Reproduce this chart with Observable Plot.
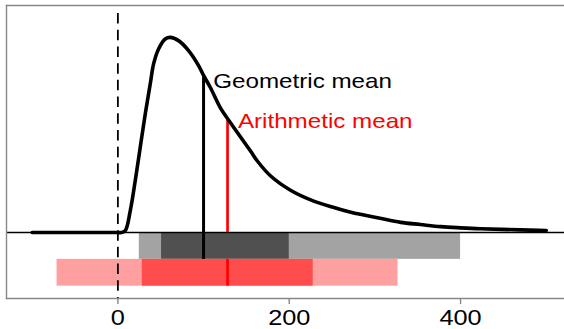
<!DOCTYPE html>
<html>
<head>
<meta charset="utf-8">
<script src="https://cdn.jsdelivr.net/npm/d3@7"></script>
<script src="https://cdn.jsdelivr.net/npm/@observablehq/plot@0.6"></script>
<style>
  html, body { margin: 0; padding: 0; background: white; }
</style>
</head>
<body>
<div id="chart"></div>
<script>
// ---- data ----
// density curve (x value, density ×10^-3)
const curveX = [-100, 0, 4, 8.6, 14.5, 20.3, 26.1, 32.0, 37.8, 41.7, 47.5, 55.3, 61.2, 70.8, 82.5, 94.2, 100, 107.8, 120, 132, 155, 163, 178, 202, 225, 248, 272, 283, 306, 330, 353, 377, 400, 423, 470, 500];
const curveY = [0, 0, 0.0, 0.07, 0.82, 1.94, 3.18, 4.43, 5.55, 6.29, 6.85, 7.22, 7.28, 7.16, 6.79, 6.23, 5.86, 5.42, 4.63, 4.07, 3.03, 2.66, 2.12, 1.57, 1.22, 0.97, 0.76, 0.68, 0.53, 0.38, 0.30, 0.22, 0.175, 0.14, 0.10, 0.075];

// means and the curve height at each mean
const meanNames = ["Geometric mean", "Arithmetic mean"];
const meanValues = [100, 128];
const meanHeights = [5.8, 4.2];

// interval bars: [low, high]
const geoOuter = [25, 400];
const geoInner = [51, 200];
const arithOuter = [-71, 327];
const arithInner = [28.5, 228];
// row bands on the y axis (below the baseline)
const geoRow = [-1, 0];
const arithRow = [-2, -1];

// label anchor points (data units)
const labelX = [111.3, 140.1];
const labelY = [5.40, 3.905];

const xTicks = [0, 200, 400];

// ---- build tables ----
const curve = curveX.map((x, i) => ({x, y: curveY[i]}));
const bars = [
  {x1: geoOuter[0], x2: geoOuter[1], y1: geoRow[0], y2: geoRow[1], fill: "#a3a3a3"},
  {x1: geoInner[0], x2: geoInner[1], y1: geoRow[0], y2: geoRow[1], fill: "#505050"},
  {x1: arithOuter[0], x2: arithOuter[1], y1: arithRow[0], y2: arithRow[1], fill: "#ffa0a0"},
  {x1: arithInner[0], x2: arithInner[1], y1: arithRow[0], y2: arithRow[1], fill: "#ff4d4d"}
];
const redUpper = [{x: meanValues[1], y1: 0, y2: meanHeights[1]}];
const redLower = [{x: meanValues[1], y1: arithRow[0], y2: arithRow[1]}];
const blackLine = [{x: meanValues[0], y1: geoRow[0], y2: meanHeights[0]}];
const labels = meanNames.map((t, i) => ({t, x: labelX[i], y: labelY[i], c: i === 0 ? "black" : "#ff0000"}));

const svg = Plot.plot({
  width: 564,
  height: 329,
  marginLeft: 6,
  marginRight: 0,
  marginTop: 5,
  marginBottom: 31,
  style: {fontFamily: "'Liberation Sans', Arial, sans-serif", background: "white", color: "black"},
  x: {domain: [-130, 521.3]},
  y: {domain: [-2.46, 8.47], axis: null},
  marks: [
    Plot.rect(bars, {x1: "x1", x2: "x2", y1: "y1", y2: "y2", fill: d => d.fill}),
    Plot.ruleX(redLower, {x: "x", y1: "y1", y2: "y2", stroke: "#ff0000", strokeWidth: 2.7}),
    Plot.ruleX([0], {y1: 8.17, y2: -2.46, stroke: "black", strokeWidth: 1.8, strokeDasharray: "10.5,6.2"}),
    Plot.ruleY([0], {stroke: "black", strokeWidth: 1.4}),
    Plot.ruleX(redUpper, {x: "x", y1: "y1", y2: "y2", stroke: "#ff0000", strokeWidth: 2.7}),
    Plot.ruleX(blackLine, {x: "x", y1: "y1", y2: "y2", stroke: "black", strokeWidth: 3}),
    Plot.line(curve, {x: "x", y: "y", stroke: "black", strokeWidth: 3.6, curve: "catmull-rom"}),
    Plot.text(labels, {x: "x", y: "y", text: "t", fill: "c", fontSize: 20.5, textAnchor: "start", lineAnchor: "bottom"}),
    Plot.frame({anchor: "top", stroke: "#888", strokeWidth: 1.4}),
    Plot.frame({anchor: "left", stroke: "#888", strokeWidth: 1.4}),
    Plot.frame({anchor: "bottom", stroke: "#888", strokeWidth: 1.4}),
    Plot.axisX({ticks: xTicks, tickSize: 6, stroke: "#888", strokeWidth: 1.4, fill: "none", label: null}),
    Plot.text(xTicks, {x: d => d, text: d => String(d), frameAnchor: "bottom", dy: 10.5, lineAnchor: "top", fontSize: 22, fill: "black"})
  ]
});

// widen glyphs horizontally (reference text is horizontally stretched)
svg.querySelectorAll("text").forEach(t => {
  const fsEl = t.closest("[font-size]");
  const fs = fsEl ? parseFloat(fsEl.getAttribute("font-size")) : 0;
  const k = fs >= 22 ? 1.15 : 1.18;
  const tr = t.getAttribute("transform") || "";
  t.setAttribute("transform", `${tr} scale(${k},1)`);
});

document.getElementById("chart").appendChild(svg);
</script>
</body>
</html>
